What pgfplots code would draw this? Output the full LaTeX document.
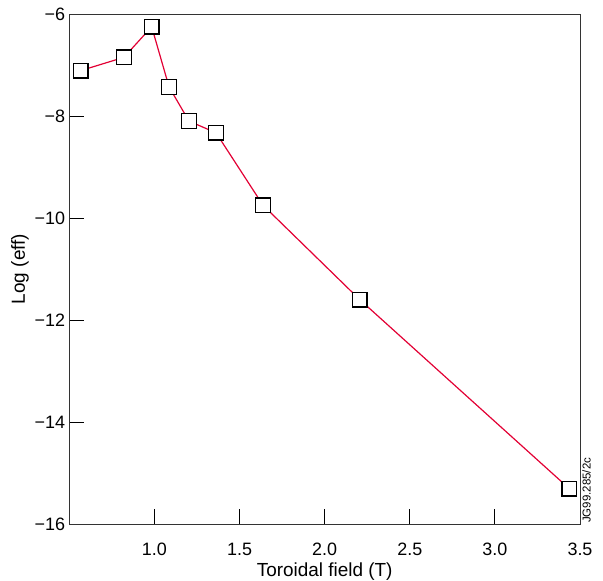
\documentclass[border=0pt]{standalone}
\usepackage{fontspec}
\setmainfont{Liberation Sans}
\usepackage{pgfplots}
\pgfplotsset{compat=1.18}
\definecolor{linered}{RGB}{226,0,52}
\begin{document}
\begin{tikzpicture}
\begin{axis}[
  scale only axis, width=510.7bp, height=510bp,
  xmin=0.5, xmax=3.5, ymin=-16, ymax=-6,
  xtick={1.0,1.5,2.0,2.5,3.0,3.5},
  xticklabels={1.0,1.5,2.0,2.5,3.0,3.5},
  ytick={-16,-14,-12,-10,-8,-6},
  yticklabels={−16,−14,−12,−10,−8,−6},
  xtick pos=bottom, ytick pos=left, tick align=inside,
  major tick length=15bp,
  tick style={black, line width=0.8bp},
  axis line style={black!80, line width=0.8bp},
  tick label style={font=\fontsize{18}{20}\selectfont},
  xticklabel style={anchor=base, inner sep=0pt, yshift=-31bp},
  yticklabel style={anchor=east, inner sep=0pt, xshift=-4bp},
  label style={font=\fontsize{19}{22}\selectfont},
  xlabel={Toroidal field (T)}, ylabel={Log (eff)},
  xlabel style={at={(axis description cs:0.5,0)}, anchor=base, inner sep=0pt, yshift=-52bp},
  ylabel style={at={(axis description cs:0,0.5)}, anchor=center, inner sep=0pt, yshift=49.3bp},
]
\addplot[linered, line width=1.2bp, mark=square*, mark size=7.3bp,
  mark options={fill=white, draw=black, line width=1.3bp, solid}]
  coordinates {
  (0.567,-7.11) (0.821,-6.85) (0.984,-6.25) (1.086,-7.43) (1.203,-8.10)
  (1.362,-8.33) (1.638,-9.75) (2.206,-11.60) (3.438,-15.31)
  };
\end{axis}
\node[rotate=90, anchor=north west, inner sep=0pt, font=\fontsize{11.5}{13}\selectfont]
  at ([shift={(2bp,1bp)}]current axis.south east) {JG99.285/2c};
\pgfresetboundingbox
\path ([shift={(-69.3bp,-57bp)}]current axis.south west) rectangle ([shift={(23bp,14bp)}]current axis.north east);
\end{tikzpicture}
\end{document}
